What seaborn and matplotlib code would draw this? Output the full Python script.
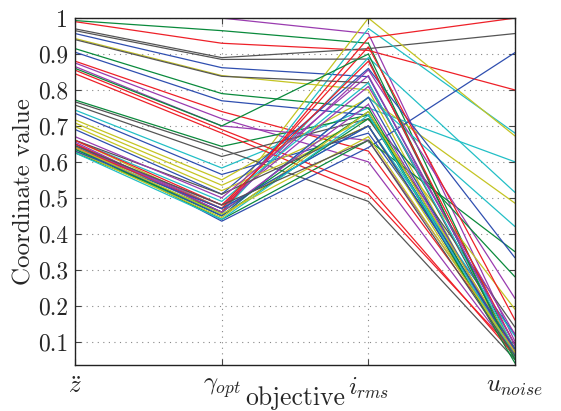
import matplotlib
matplotlib.use("Agg")
import matplotlib.pyplot as plt
import numpy as np
import pandas as pd
import seaborn as sns

# one entry per solution, in colour-cycle order (b g r c m y k)
z_ddot = [0.957, 0.993, 0.99, 0.744, 1.0, 0.943, 0.97,
          0.905, 0.915, 0.88, 0.635, 0.875, 0.66, 0.965,
          0.735, 0.772, 0.855, 0.645, 0.865, 0.717, 0.767,
          0.65, 0.64, 0.845, 0.63, 0.65, 0.708, 0.758,
          0.69, 0.635, 0.65, 0.64, 0.64, 0.698, 0.94,
          0.64, 0.625, 0.64, 0.66, 0.655, 0.63, 0.66,
          0.63, 0.86, 0.66, 0.625, 0.67, 0.64, 0.645]
gamma_opt = [0.862, 0.965, 0.93, 0.583, 1.0, 0.84, 0.89,
             0.77, 0.79, 0.74, 0.455, 0.72, 0.47, 0.885,
             0.565, 0.643, 0.69, 0.46, 0.70, 0.55, 0.635,
             0.435, 0.44, 0.68, 0.45, 0.47, 0.535, 0.615,
             0.51, 0.45, 0.46, 0.47, 0.48, 0.52, 0.838,
             0.45, 0.46, 0.47, 0.49, 0.46, 0.445, 0.51,
             0.47, 0.70, 0.48, 0.44, 0.50, 0.455, 0.48]
i_rms = [0.837, 0.93, 0.91, 0.75, 0.957, 0.80, 0.915,
         0.73, 0.75, 0.63, 0.971, 0.60, 1.0, 0.886,
         0.68, 0.73, 0.53, 0.89, 0.66, 0.778, 0.49,
         0.64, 0.66, 0.51, 0.78, 0.856, 0.72, 0.72,
         0.86, 0.72, 0.945, 0.70, 0.81, 0.70, 0.82,
         0.78, 0.74, 0.92, 0.82, 0.76, 0.74, 0.70,
         0.70, 0.90, 0.88, 0.73, 0.84, 0.67, 0.66]
u_noise = [0.09, 0.07, 0.80, 0.60, 0.10, 0.05, 0.957,
           0.07, 0.06, 0.08, 0.68, 0.06, 0.672, 0.06,
           0.12, 0.05, 0.06, 0.515, 0.08, 0.485, 0.05,
           0.904, 0.35, 0.07, 0.42, 0.22, 0.19, 0.14,
           0.333, 0.28, 1.0, 0.115, 0.12, 0.06, 0.07,
           0.06, 0.04, 0.16, 0.08, 0.07, 0.08, 0.08,
           0.08, 0.05, 0.09, 0.06, 0.09, 0.07, 0.06]

objectives = [r"$\ddot{z}$", r"$\gamma_{opt}$", r"$i_{rms}$", r"$u_{noise}$"]
y_ticks = [0.1, 0.2, 0.3, 0.4, 0.5, 0.6, 0.7, 0.8, 0.9, 1.0]

matlab_colors = ["#2f4fb0", "#0a8a3c", "#ee2028", "#22bfc6",
                 "#9a3cb0", "#c4c423", "#555555"]

rows = []
for k, vals in enumerate(zip(z_ddot, gamma_opt, i_rms, u_noise)):
    for j, v in enumerate(vals):
        rows.append({"run": k, "objective": j, "value": v})
df = pd.DataFrame(rows)

sns.set_style("ticks")
plt.rcParams["font.family"] = ["cmr10", "DejaVu Serif"]
plt.rcParams["mathtext.fontset"] = "cm"
plt.rcParams["axes.formatter.use_mathtext"] = True

fig = plt.figure(figsize=(5.61, 4.11), dpi=100)
ax = fig.add_axes([0.134, 0.112, 0.784, 0.844])

palette = [matlab_colors[i % 7] for i in range(len(z_ddot))]
sns.lineplot(data=df, x="objective", y="value", hue="run", palette=palette,
             estimator=None, sort=False, legend=False, linewidth=0.9, ax=ax)

ax.set_xlim(0, len(objectives) - 1)
ax.set_ylim(0.035, 1.0)
ax.set_xticks(range(len(objectives)))
ax.set_xticklabels(objectives, fontsize=18)
ax.set_yticks(y_ticks)
ax.set_yticklabels(["%g" % t for t in y_ticks], fontsize=17)
ax.tick_params(direction="in", top=True, right=True, length=4, width=0.8,
               color="#444444")
ax.tick_params(axis="x", pad=8)
ax.tick_params(axis="y", pad=5)
ax.grid(True, linestyle=(0, (1, 4)), color="#888888", linewidth=0.8)
for s in ax.spines.values():
    s.set_linewidth(1.0)
    s.set_color("#222222")

ax.set_xlabel("objective", fontsize=18.5)
ax.xaxis.set_label_coords(0.5, -0.062)
ax.set_ylabel("Coordinate value", fontsize=18, labelpad=2)

fig.savefig("out.png", dpi=100)
